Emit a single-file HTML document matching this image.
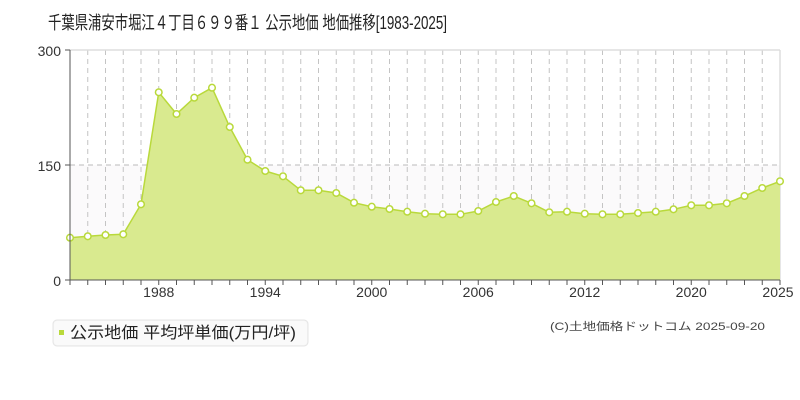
<!DOCTYPE html>
<html><head><meta charset="utf-8"><style>
body{margin:0;background:#fff;width:800px;height:400px;overflow:hidden}
svg{display:block;font-family:"Liberation Sans","Noto Sans CJK JP",sans-serif}
</style></head><body>
<svg id="s" width="800" height="400" xmlns="http://www.w3.org/2000/svg">
<text x="48" y="29" font-size="18" fill="#222" textLength="399" lengthAdjust="spacingAndGlyphs">千葉県浦安市堀江４丁目６９９番１ 公示地価 地価推移[1983-2025]</text>
<rect x="70" y="165" width="710" height="115" fill="#fbfafb"/>
<g id="grid"></g>
<line x1="70" y1="50" x2="780" y2="50" stroke="#ddd" stroke-width="1.5"/>
<line x1="780" y1="50" x2="780" y2="280" stroke="#ddd" stroke-width="1.5"/>
<line x1="70" y1="165" x2="780" y2="165" stroke="#bbb" stroke-dasharray="5,4"/>
<polygon id="area" fill="#d9ea8f" stroke="none"/>
<polyline id="line" fill="none" stroke="#b9d93b" stroke-width="1.5"/>
<g id="dots"></g>
<line x1="70" y1="50" x2="70" y2="280" stroke="#555"/>
<line x1="70" y1="280" x2="780" y2="280" stroke="#555"/>
<line x1="65" y1="50" x2="70" y2="50" stroke="#555"/>
<line x1="65" y1="165" x2="70" y2="165" stroke="#555"/>
<line x1="65" y1="280" x2="70" y2="280" stroke="#555"/>
<g id="ticks"></g>
<g font-size="14" fill="#333" text-anchor="end">
<text x="61" y="56">300</text><text x="61" y="171">150</text><text x="61" y="286">0</text>
</g>
<g font-size="14" fill="#333" text-anchor="middle">
<text x="158.75" y="297">1988</text><text x="265.25" y="297">1994</text><text x="371.75" y="297">2000</text>
<text x="478.25" y="297">2006</text><text x="584.75" y="297">2012</text><text x="691.25" y="297">2020</text><text x="778" y="297">2025</text>
</g>
<rect x="53" y="320" width="255" height="26" rx="4" fill="#f6f6f6" stroke="#e4e4e4"/>
<rect x="54" y="321" width="253" height="24" rx="4" fill="#fafafa"/>
<rect x="59" y="330" width="5" height="5" fill="#b9d93b"/>
<text x="70" y="338" font-size="16" fill="#222" textLength="226" lengthAdjust="spacingAndGlyphs">公示地価 平均坪単価(万円/坪)</text>
<text x="765" y="330" font-size="11" fill="#444" text-anchor="end" textLength="215" lengthAdjust="spacingAndGlyphs">(C)土地価格ドットコム 2025-09-20</text>
</svg>
<script>
var ys=[237.7,236.3,235,234.3,204.3,92.3,114,97.7,87.7,127,159.7,171,176.3,190.3,190.3,193,202.7,206.7,209,211.7,213.7,214.3,214.3,211,202,196,203.3,212.3,211.7,213.7,214.3,214.3,213,211.7,209.3,205.3,205.3,203.3,196,188,181.3];
var ns="http://www.w3.org/2000/svg",pts=[],g=document.getElementById('grid'),d=document.getElementById('dots'),t=document.getElementById('ticks');
function el(n,a,p){var e=document.createElementNS(ns,n);for(var k in a)e.setAttribute(k,a[k]);p.appendChild(e);return e;}
ys.forEach(function(y,i){var x=70+17.75*i;pts.push(x+','+y);
 if(i>0&&i<40)el('line',{x1:x,y1:50,x2:x,y2:280,stroke:'#c4c4c4','stroke-dasharray':'5,4'},g);
 el('line',{x1:x,y1:280,x2:x,y2:285,stroke:'#555'},t);
 el('circle',{cx:x,cy:y,r:3.3,fill:'#fff',stroke:'#b9d93b','stroke-width':1.5},d);});
document.getElementById('line').setAttribute('points',pts.join(' '));
document.getElementById('area').setAttribute('points','70,280 '+pts.join(' ')+' 780,280');
</script>
</body></html>
